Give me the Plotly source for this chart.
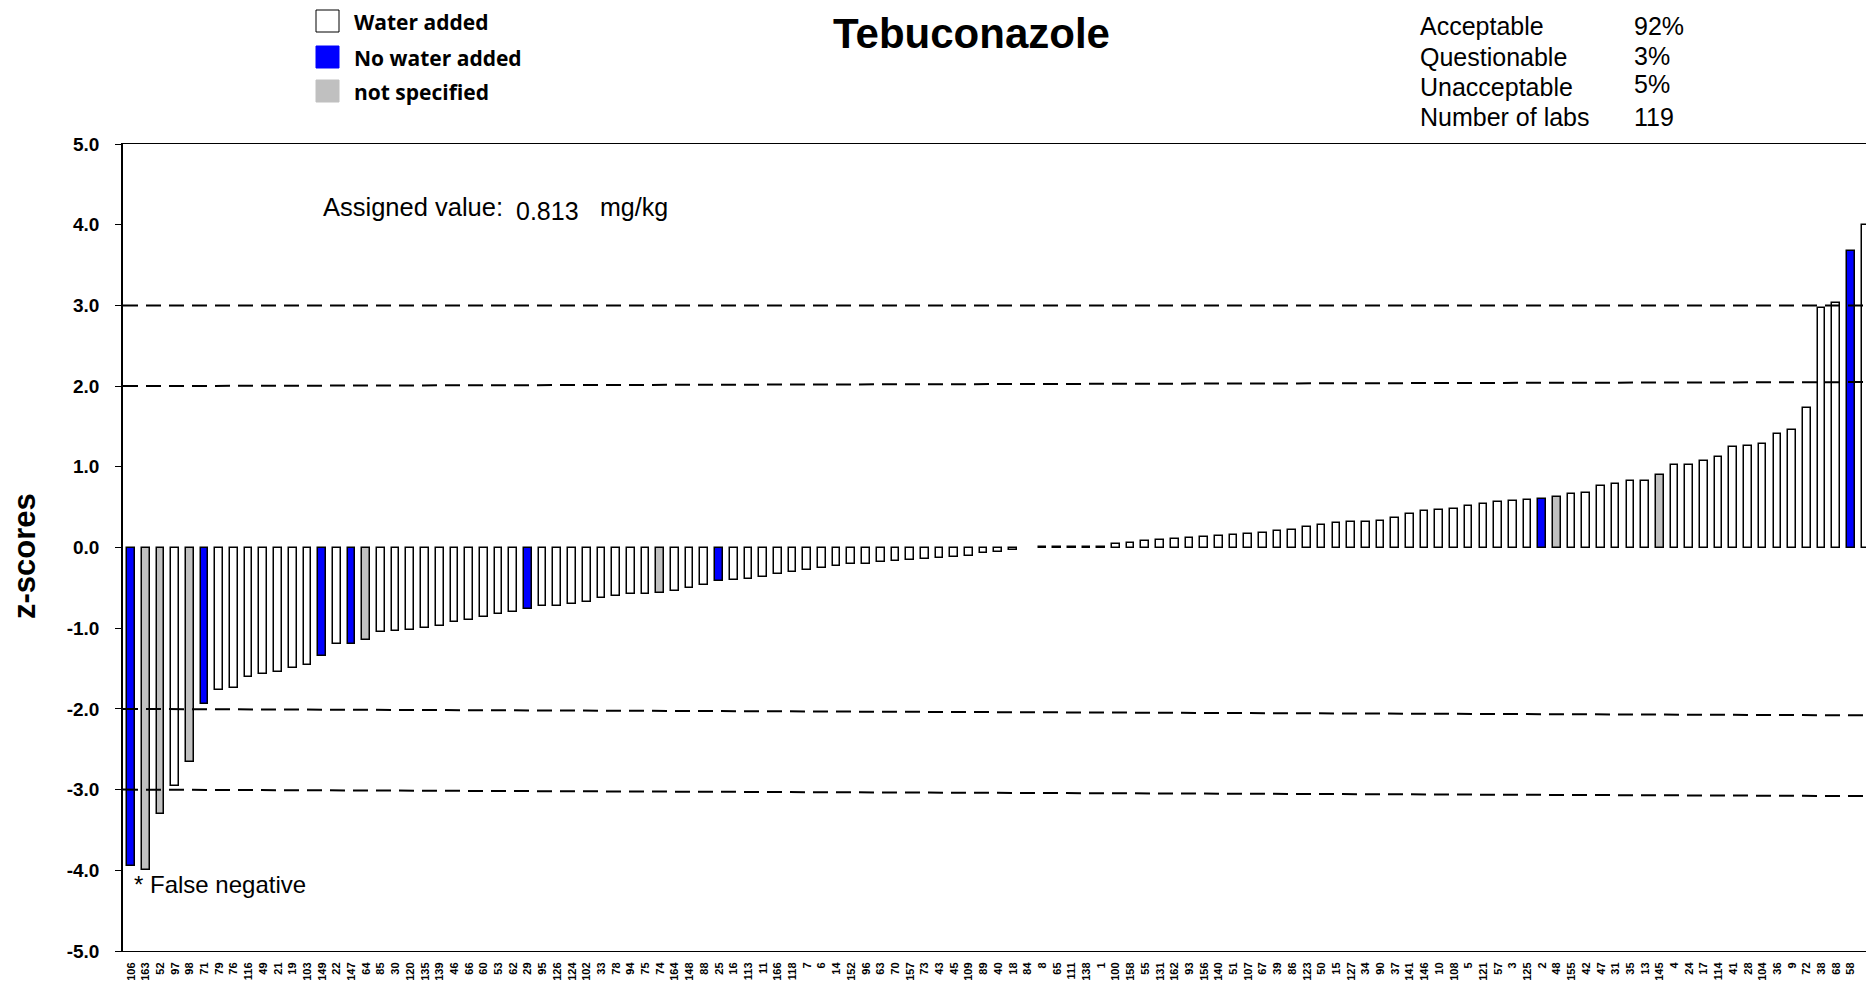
import plotly.graph_objects as go

# ---------------- data ----------------
labs = ["106","163","52","97","98","71","79","76","116","49",
        "21","19","103","149","22","147","64","85","30","120",
        "135","139","46","66","60","53","62","29","95","126",
        "124","102","33","78","94","75","74","164","148","88",
        "25","16","113","11","166","118","7","6","14","152",
        "96","63","70","157","73","43","45","109","89","40",
        "18","84","8","65","111","138","1","100","158","55",
        "131","162","93","156","140","51","107","67","39","86",
        "123","50","15","127","34","90","37","141","146","10",
        "108","5","121","57","3","125","2","48","155","42",
        "47","31","35","13","145","4","24","17","114","41",
        "28","104","36","9","72","38","68","58","12"]

zscores = [-3.95,-4.00,-3.30,-2.96,-2.66,-1.94,-1.76,-1.74,-1.61,-1.57,
           -1.54,-1.49,-1.46,-1.34,-1.19,-1.19,-1.15,-1.05,-1.04,-1.02,
           -1.00,-0.97,-0.92,-0.90,-0.86,-0.83,-0.80,-0.76,-0.73,-0.72,
           -0.70,-0.67,-0.63,-0.60,-0.58,-0.57,-0.56,-0.54,-0.50,-0.46,
           -0.42,-0.40,-0.39,-0.36,-0.33,-0.30,-0.28,-0.25,-0.23,-0.21,
           -0.20,-0.18,-0.17,-0.15,-0.14,-0.13,-0.12,-0.11,-0.07,-0.06,
           -0.03,None,0.01,0.01,0.01,0.01,0.01,0.04,0.05,0.08,
           0.09,0.10,0.12,0.13,0.14,0.15,0.17,0.18,0.20,0.22,
           0.26,0.28,0.30,0.31,0.31,0.33,0.37,0.42,0.45,0.46,
           0.48,0.52,0.54,0.56,0.58,0.59,0.60,0.62,0.66,0.68,
           0.76,0.79,0.82,0.83,0.90,1.02,1.02,1.07,1.12,1.25,
           1.26,1.28,1.41,1.46,1.73,2.97,3.03,3.68,4.00]

no_water_labs = ["106","71","149","147","29","25","2","58"]
not_specified_labs = ["163","52","98","64","74","48","145"]

y_tick_values = [-5, -4, -3, -2, -1, 0, 1, 2, 3, 4, 5]
y_tick_labels = ["-5.0", "-4.0", "-3.0", "-2.0", "-1.0", "0.0", "1.0", "2.0", "3.0", "4.0", "5.0"]

limit_levels = [3.0, 2.0, -2.0, -3.0]
limit_levels_right = [3.0, 2.05, -2.08, -3.08]   # lines in the original are slightly tilted

stats_names = ["Acceptable", "Questionable", "Unacceptable", "Number of labs"]
stats_values = ["92%", "3%", "5%", "119"]

legend_names = ["Water added", "No water added", "not specified"]
legend_colors = ["#FFFFFF", "#0000FF", "#C0C0C0"]

assigned_value = "0.813"

# ---------------- layout geometry (pixels) ----------------
W, H = 1866, 987
L, R, T, B = 123, 0, 144, 36
PW, PH = W - L - R, H - T - B

def px(x):
    return (x - L) / PW

def py(y):
    return (H - B - y) / PH

colors = []
for lab in labs:
    if lab in no_water_labs:
        colors.append(legend_colors[1])
    elif lab in not_specified_labs:
        colors.append(legend_colors[2])
    else:
        colors.append(legend_colors[0])

xs = list(range(len(labs)))

fig = go.Figure()
fig.add_trace(go.Bar(
    x=xs, y=zscores, width=0.52,
    marker=dict(color=colors, line=dict(color="black", width=1.5)),
    showlegend=False, hoverinfo="skip", cliponaxis=True,
))

shapes = []
for y0, y1 in zip(limit_levels, limit_levels_right):
    shapes.append(dict(type="line", xref="paper", yref="y", x0=0, x1=1, y0=y0, y1=y1,
                       line=dict(color="black", width=2, dash="15px,8px"), layer="above"))

# legend boxes
leg_y = [21, 57, 91]
for yc, c in zip(leg_y, legend_colors):
    shapes.append(dict(type="rect", xref="paper", yref="paper",
                       x0=px(316), x1=px(339), y0=py(yc - 11), y1=py(yc + 11),
                       fillcolor=c, line=dict(color="black" if c == "#FFFFFF" else c, width=1)))

annotations = []
for yc, name in zip(leg_y, legend_names):
    annotations.append(dict(text="<b>" + name + "</b>", xref="paper", yref="paper",
                            x=px(352), y=py(yc + 1), xanchor="left", yanchor="middle",
                            showarrow=False, font=dict(family="Open Sans", size=21, color="black")))

annotations.append(dict(text="<b>Tebuconazole</b>", xref="paper", yref="paper",
                        x=px(971), y=py(34), xanchor="center", yanchor="middle", showarrow=False,
                        font=dict(family="Arial, Liberation Sans", size=42, color="black")))

stat_y = [26, 57, 87, 117]
val_y = [26, 56, 84, 117]
for yc, yv, n, v in zip(stat_y, val_y, stats_names, stats_values):
    annotations.append(dict(text=n, xref="paper", yref="paper", x=px(1418), y=py(yc),
                            xanchor="left", yanchor="middle", showarrow=False,
                            font=dict(family="Arial, Liberation Sans", size=25, color="black")))
    annotations.append(dict(text=v, xref="paper", yref="paper", x=px(1632), y=py(yv),
                            xanchor="left", yanchor="middle", showarrow=False,
                            font=dict(family="Arial, Liberation Sans", size=25, color="black")))

annotations.append(dict(text="Assigned value:", xref="paper", yref="paper", x=px(321), y=py(207),
                        xanchor="left", yanchor="middle", showarrow=False,
                        font=dict(family="Arial, Liberation Sans", size=25.5, color="black")))
annotations.append(dict(text=assigned_value, xref="paper", yref="paper", x=px(514), y=py(211),
                        xanchor="left", yanchor="middle", showarrow=False,
                        font=dict(family="Arial, Liberation Sans", size=25, color="black")))
annotations.append(dict(text="mg/kg", xref="paper", yref="paper", x=px(598), y=py(207),
                        xanchor="left", yanchor="middle", showarrow=False,
                        font=dict(family="Arial, Liberation Sans", size=25, color="black")))
annotations.append(dict(text="* False negative", xref="paper", yref="paper", x=px(132), y=py(884),
                        xanchor="left", yanchor="middle", showarrow=False,
                        font=dict(family="Arial, Liberation Sans", size=24, color="black")))
annotations.append(dict(text="<b>z-scores</b>", xref="paper", yref="paper", x=px(24), y=py(556),
                        xanchor="center", yanchor="middle", textangle=-90, showarrow=False,
                        font=dict(family="Arial, Liberation Sans", size=31, color="black")))

fig.update_layout(
    width=W, height=H,
    margin=dict(l=L, r=R, t=T, b=B, pad=0, autoexpand=False),
    paper_bgcolor="white", plot_bgcolor="white",
    shapes=shapes, annotations=annotations,
    bargap=0,
)
fig.update_xaxes(
    range=[-0.544, 118.03], tickmode="array", tickvals=xs, ticktext=labs,
    tickangle=-90, tickfont=dict(family="Arial, Liberation Sans", size=11, color="black", weight="bold"),
    showline=True, linecolor="black", linewidth=1, mirror=True,
    showgrid=False, zeroline=False, ticks="", automargin=False, ticklabelstandoff=6,
)
fig.update_yaxes(
    range=[-5, 5], tickmode="array", tickvals=y_tick_values, ticktext=y_tick_labels,
    tickfont=dict(family="Arial, Liberation Sans", size=19, color="black", weight="bold"),
    showline=True, linecolor="black", linewidth=1.5, ticks="outside", ticklen=6, tickcolor="black",
    ticklabelstandoff=12, showgrid=False, zeroline=False, automargin=False,
)

fig.write_html(
    "out.html",
    config={"displayModeBar": False},
    post_script="document.body.style.margin='0';document.body.style.overflow='hidden';",
)
